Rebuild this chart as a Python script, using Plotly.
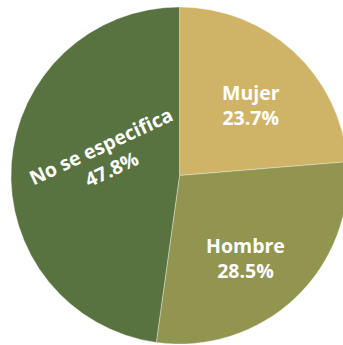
import plotly.graph_objects as go

labels = ["Mujer", "Hombre", "No se especifica"]
values = [23.7, 28.5, 47.8]
colors = ["#CFB468", "#929550", "#58733F"]

fig = go.Figure()
fig.add_trace(go.Pie(
    labels=labels,
    values=values,
    sort=False,
    direction="clockwise",
    rotation=0,
    marker=dict(colors=colors, line=dict(color="rgba(255,255,255,0.35)", width=1)),
    textinfo="none",
    showlegend=False,
    hoverinfo="label+value",
))

# Slice labels (position in paper coords, angle of text)
label_pos = [(0.712, 0.709, 0), (0.697, 0.255, 0), (0.283, 0.556, -25)]
font = dict(family="Open Sans", size=19.5, color="white", weight="bold")
for lab, val, (x, y, ang) in zip(labels, values, label_pos):
    fig.add_annotation(
        x=x, y=y, xref="paper", yref="paper",
        xanchor="center", yanchor="middle",
        text=f"{lab}<br>{val:.1f}%",
        showarrow=False, textangle=ang,
        font=font,
    )

fig.update_layout(
    width=349, height=345,
    margin=dict(l=11, r=1, t=7, b=1),
    paper_bgcolor="white",
    plot_bgcolor="white",
)
fig.write_html(
    "out.html",
    config={"displayModeBar": False},
    post_script="document.body.style.margin='0';document.body.style.overflow='hidden';",
)
